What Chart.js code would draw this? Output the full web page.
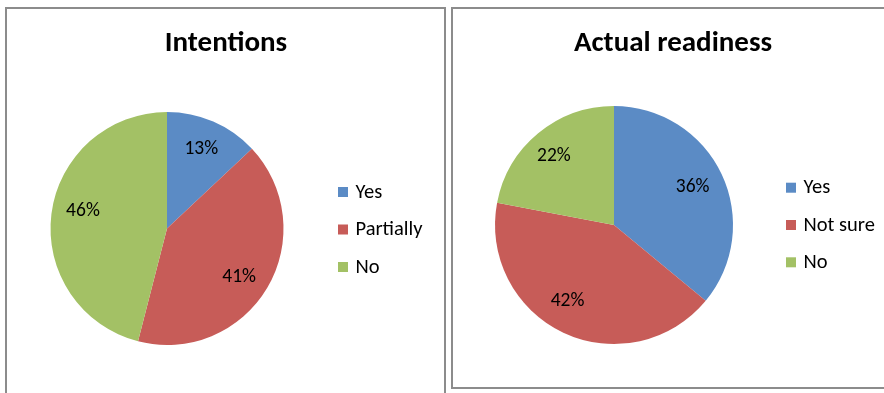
<!DOCTYPE html>
<html>
<head>
<meta charset="utf-8">
<script src="https://cdn.jsdelivr.net/npm/chart.js@4/dist/chart.umd.min.js"></script>
<style>
  html, body { margin: 0; padding: 0; background: #fff; width: 884px; height: 393px; overflow: hidden; }
  .panel { position: absolute; border: 2px solid #8c8c8c; background: #fff; }
  #p1 { left: 5px; top: 7px; width: 437px; height: 400px; }
  #p2 { left: 451px; top: 7px; width: 440px; height: 378px; }
  canvas { position: absolute; left: 0; top: 0; }
</style>
</head>
<body>
<div class="panel" id="p1"><div style="position:absolute;left:0;top:0;width:437px;height:384px"><canvas id="intentionsChart"></canvas></div></div>
<div class="panel" id="p2"><div style="position:absolute;left:0;top:0;width:431px;height:378px"><canvas id="readinessChart"></canvas></div></div>
<script>
const intentionsLabels = ['Yes', 'Partially', 'No'];
const intentionsValues = [13, 41, 46];
const readinessLabels = ['Yes', 'Not sure', 'No'];
const readinessValues = [36, 42, 22];
const sliceColors = ['#5b8bc5', '#c75c58', '#a3c165'];

const FONT = 'Carlito, Lato, "Open Sans", sans-serif';

// draws title, legend and percent labels on the pie
const panelText = {
    id: 'panelText',
    afterDraw(chart, args, opts) {
        const ctx = chart.ctx;
        ctx.save();
        ctx.fillStyle = '#000';
        ctx.textAlign = 'center';
        ctx.textBaseline = 'middle';
        ctx.font = 'bold 29px ' + FONT;
        ctx.fillText(opts.title, opts.titleX, opts.titleY);

        const meta = chart.getDatasetMeta(0);
        const data = chart.data.datasets[0].data;
        ctx.font = '19.5px ' + FONT;
        meta.data.forEach((arc, i) => {
            const p = arc.getProps(['x', 'y', 'startAngle', 'endAngle', 'outerRadius'], true);
            const mid = (p.startAngle + p.endAngle) / 2;
            const r = p.outerRadius * 0.74;
            // small nudges, excel places labels a bit off the centre line
            const nudge = opts.nudge[i];
            ctx.fillText(data[i] + '%', p.x + Math.cos(mid) * r + nudge[0], p.y + Math.sin(mid) * r + nudge[1]);
        });

        ctx.textAlign = 'left';
        ctx.font = '20.5px ' + FONT;
        chart.data.labels.forEach((lab, i) => {
            const y = opts.legendY + i * opts.legendGap;
            ctx.fillStyle = chart.data.datasets[0].backgroundColor[i];
            ctx.fillRect(opts.legendX, y - 5, 10, 10);
            ctx.fillStyle = '#000';
            ctx.fillText(lab, opts.legendX + 17.5, y + 0.5);
        });
        ctx.restore();
    }
};

function makePie(id, labels, values, padding, text) {
    const ctx = document.getElementById(id).getContext('2d');
    return new Chart(ctx, {
        type: 'pie',
        data: {
            labels: labels,
            datasets: [{
                data: values,
                backgroundColor: sliceColors,
                borderWidth: 0
            }]
        },
        options: {
            responsive: true,
            maintainAspectRatio: false,
            animation: false,
            layout: { padding: padding },
            plugins: {
                legend: { display: false },
                title: { display: false },
                tooltip: { enabled: false },
                panelText: text
            }
        },
        plugins: [panelText]
    });
}

makePie('intentionsChart', intentionsLabels, intentionsValues,
    { left: 43, right: 160, top: 103, bottom: 48 },
    { title: 'Intentions', titleX: 219, titleY: 35, legendX: 331, legendY: 183, legendGap: 37.5,
      nudge: [[0, 0], [-2, 5], [1.5, -7]] });

makePie('readinessChart', readinessLabels, readinessValues,
    { left: 42, right: 151, top: 97, bottom: 43 },
    { title: 'Actual readiness', titleX: 220, titleY: 35, legendX: 333, legendY: 178.7, legendGap: 37.3,
      nudge: [[-1, 0], [-9, -4], [-4, -1]] });
</script>
</body>
</html>
